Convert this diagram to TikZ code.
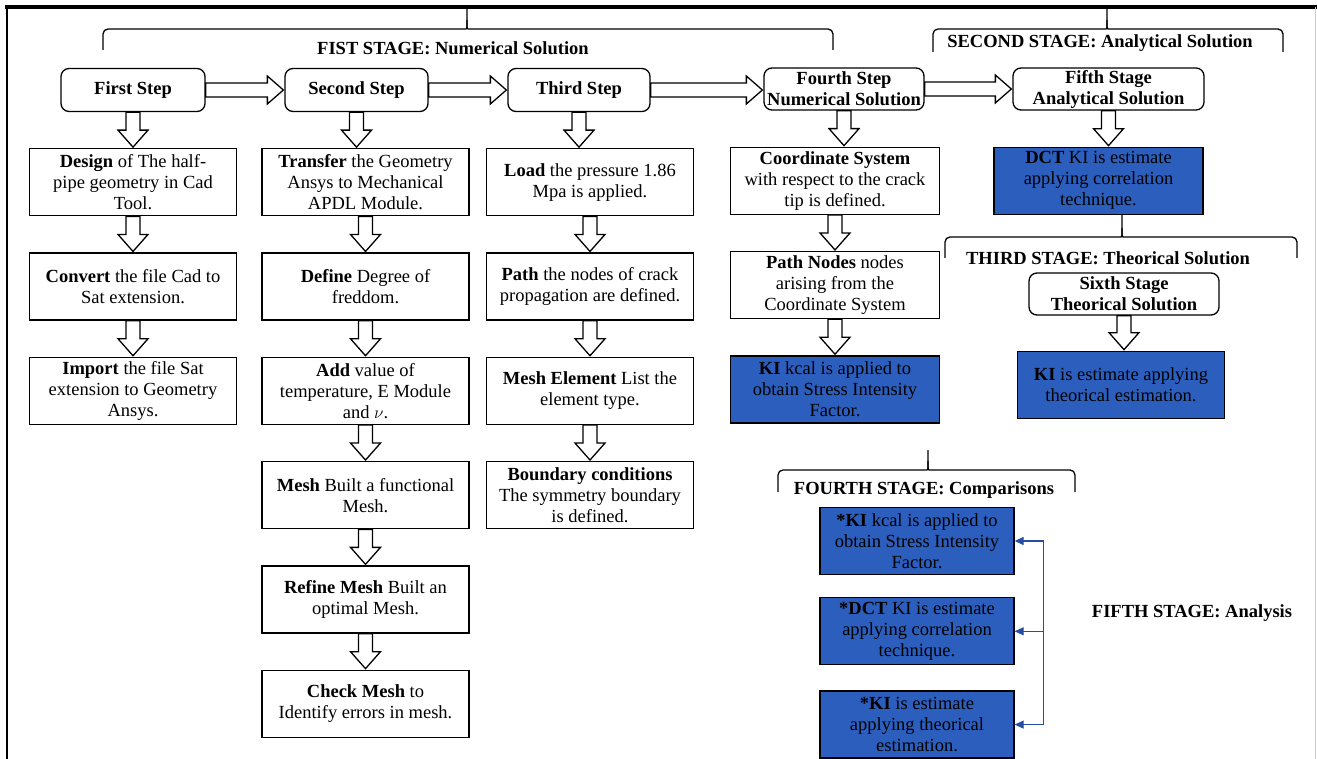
\documentclass[tikz,border=0pt]{standalone}
\usepackage{fontspec}
\setmainfont{Liberation Serif}
\usetikzlibrary{calc,positioning,arrows.meta}

\definecolor{boxblue}{RGB}{44,94,190}
\definecolor{linkblue}{RGB}{38,78,160}

\newcommand\bodyfont{\fontsize{18.5}{21}\selectfont}

\newcommand\downhollow[2]{%
  \draw[hollow] let \p1=(#1.south), \p2=(#2.north) in
    (\x1-7pt,\y1) -- (\x1-7pt,\y2+18pt) -- (\x1-15pt,\y2+18pt) -- (\x1,\y2+1pt)
    -- (\x1+15pt,\y2+18pt) -- (\x1+7pt,\y2+18pt) -- (\x1+7pt,\y1) -- cycle;}

\newcommand\righthollow[2]{%
  \draw[hollow] let \p1=(#1.east), \p2=(#2.west) in
    (\x1,\y1+7pt) -- (\x2-17pt,\y1+7pt) -- (\x2-17pt,\y1+14pt) -- (\x2-1pt,\y1)
    -- (\x2-17pt,\y1-14pt) -- (\x2-17pt,\y1-7pt) -- (\x1,\y1-7pt) -- cycle;}

\newcommand\stagebrace[6]{%
  \draw[brace] (#1,#5) [rounded corners=5pt] -- (#1,#4) -- (#3-6,#4) [sharp corners]
    .. controls (#3,#4) .. (#3,#4-9) -- (#3,#6);
  \draw[brace] (#2,#5) [rounded corners=5pt] -- (#2,#4) -- (#3+6,#4) [sharp corners]
    .. controls (#3,#4) .. (#3,#4-9);}

\tikzset{
  stephead/.style={draw,rounded corners=8pt,line width=1.3pt,font=\bodyfont\bfseries,
    align=center,inner sep=2pt},
  task/.style={draw,line width=1.3pt,font=\bodyfont,align=center,
    minimum width=207pt,minimum height=67pt,inner sep=2pt},
  result/.style={task,fill=boxblue},
  stagelabel/.style={font=\bodyfont\bfseries,inner sep=0pt},
  hollow/.style={line width=1.3pt,fill=white,line join=miter},
  brace/.style={line width=1.3pt},
  cmp/.style={draw=linkblue,line width=1.3pt},
}

\begin{document}
\begin{tikzpicture}[x=1pt,y=-1pt,node distance=36pt]
\useasboundingbox (0,0) rectangle (1317,759);
\fill[white] (0,0) rectangle (1317,759);

\draw[line width=4pt] (5,7) -- (1317,7);
\draw[line width=2.5pt] (7,5) -- (7,759);
\draw[gray!40,line width=1pt] (1315,7) -- (1315,759);

\node[stephead,minimum width=144pt,minimum height=43pt] (first) at (133,90) {First Step};
\node[stephead,minimum width=143pt,minimum height=43pt] (second) at (356.5,90) {Second Step};
\node[stephead,minimum width=142pt,minimum height=43pt] (third) at (579,90) {Third Step};
\node[stephead,minimum width=160pt,minimum height=42pt] (fourth) at (844,89) {Fourth Step\\Numerical Solution};
\node[stephead,minimum width=191pt,minimum height=42pt] (fifth) at (1108.5,89) {Fifth Stage\\Analytical Solution};

\node[task] (design) [below=of first] {\textbf{Design} of The half-\\pipe geometry in Cad\\Tool.};
\node[task] (convert) [below=of design] {\textbf{Convert} the file Cad to\\Sat extension.};
\node[task] (import) [below=of convert] {\textbf{Import} the file Sat\\extension to Geometry\\Ansys.};

\node[task] (transfer) [below=of second,xshift=9pt] {\textbf{Transfer} the Geometry\\Ansys to Mechanical\\APDL Module.};
\node[task] (define) [below=of transfer] {\textbf{Define} Degree of\\freddom.};
\node[task] (addval) [below=of define] {\textbf{Add} value of\\temperature, E Module\\and $\nu$.};
\node[task] (mesh) [below=of addval] {\textbf{Mesh} Built a functional\\Mesh.};
\node[task] (refine) [below=of mesh] {\textbf{Refine Mesh} Built an\\optimal Mesh.};
\node[task] (check) [below=of refine] {\textbf{Check Mesh} to\\Identify errors in mesh.};

\node[task] (load) [below=of third,xshift=11pt] {\textbf{Load} the pressure 1.86\\Mpa is applied.};
\node[task] (path) [below=of load] {\textbf{Path} the nodes of crack\\propagation are defined.};
\node[task] (meshel) [below=of path] {\textbf{Mesh Element} List the\\element type.};
\node[task] (boundary) [below=of meshel] {\textbf{Boundary conditions}\\The symmetry boundary\\is defined.};

\node[task,minimum width=209pt] (coord) [below=of fourth,xshift=-9pt] {\textbf{Coordinate System}\\with respect to the crack\\tip is defined.};
\node[task,minimum width=209pt] (pathnodes) [below=of coord] {\textbf{Path Nodes} nodes\\arising from the\\Coordinate System};
\node[result,minimum width=209pt] (kcal) [below=of pathnodes] {\textbf{KI} kcal is applied to\\obtain Stress Intensity\\Factor.};

\node[result,minimum width=209pt] (dct) [below=of fifth,xshift=-10pt] {\textbf{DCT} KI is estimate\\applying correlation\\technique.};
\node[stephead,minimum width=190pt,minimum height=42pt] (sixth) at (1124,294) {Sixth Stage\\Theorical Solution};
\node[result] (kiest) [below=35pt of sixth,xshift=-3pt] {\textbf{KI} is estimate applying\\theorical estimation.};

\node[result,minimum width=194pt] (cmpa) at (917,541) {\textbf{*KI} kcal is applied to\\obtain Stress Intensity\\Factor.};
\node[result,minimum width=194pt] (cmpb) [below=22pt of cmpa] {\textbf{*DCT} KI is estimate\\applying correlation\\technique.};
\node[result,minimum width=194pt] (cmpc) [below=25pt of cmpb] {\textbf{*KI} is estimate\\applying theorical\\estimation.};

\node[stagelabel] (stageone) at (453,48) {FIST STAGE: Numerical Solution};
\node[stagelabel] (stagetwo) at (1100,43) {SECOND STAGE: Analytical Solution};
\node[stagelabel] (stagethree) at (1108,258) {THIRD STAGE: Theorical Solution};
\node[stagelabel] (stagefour) at (924,490) {FOURTH STAGE: Comparisons};
\node[stagelabel] (stagefive) at (1192,613) {FIFTH STAGE: Analysis};

\stagebrace{103}{833}{467}{29}{50}{9}
\stagebrace{933}{1283}{1107}{29}{52}{9}
\stagebrace{945}{1297}{1122}{237}{258}{215}
\stagebrace{778}{1075}{928}{470}{492}{450}

\righthollow{first}{second}
\righthollow{second}{third}
\righthollow{third}{fourth}
\righthollow{fourth}{fifth}

\downhollow{first}{design}
\downhollow{design}{convert}
\downhollow{convert}{import}
\downhollow{second}{transfer}
\downhollow{transfer}{define}
\downhollow{define}{addval}
\downhollow{addval}{mesh}
\downhollow{mesh}{refine}
\downhollow{refine}{check}
\downhollow{third}{load}
\downhollow{load}{path}
\downhollow{path}{meshel}
\downhollow{meshel}{boundary}
\downhollow{fourth}{coord}
\downhollow{coord}{pathnodes}
\downhollow{pathnodes}{kcal}
\downhollow{fifth}{dct}
\downhollow{sixth}{kiest}

\path (cmpa.east) ++(29pt,0) coordinate (bustop);
\draw[cmp] (bustop) -- (bustop |- cmpc.east) coordinate (busbot);
\draw[cmp,-{Triangle[length=9pt,width=8pt]}] (bustop) -- (cmpa.east);
\draw[cmp,-{Triangle[length=9pt,width=8pt]}] (bustop |- cmpb.east) -- (cmpb.east);
\draw[cmp,-{Triangle[length=9pt,width=8pt]}] (busbot) -- (cmpc.east);
\end{tikzpicture}
\end{document}
